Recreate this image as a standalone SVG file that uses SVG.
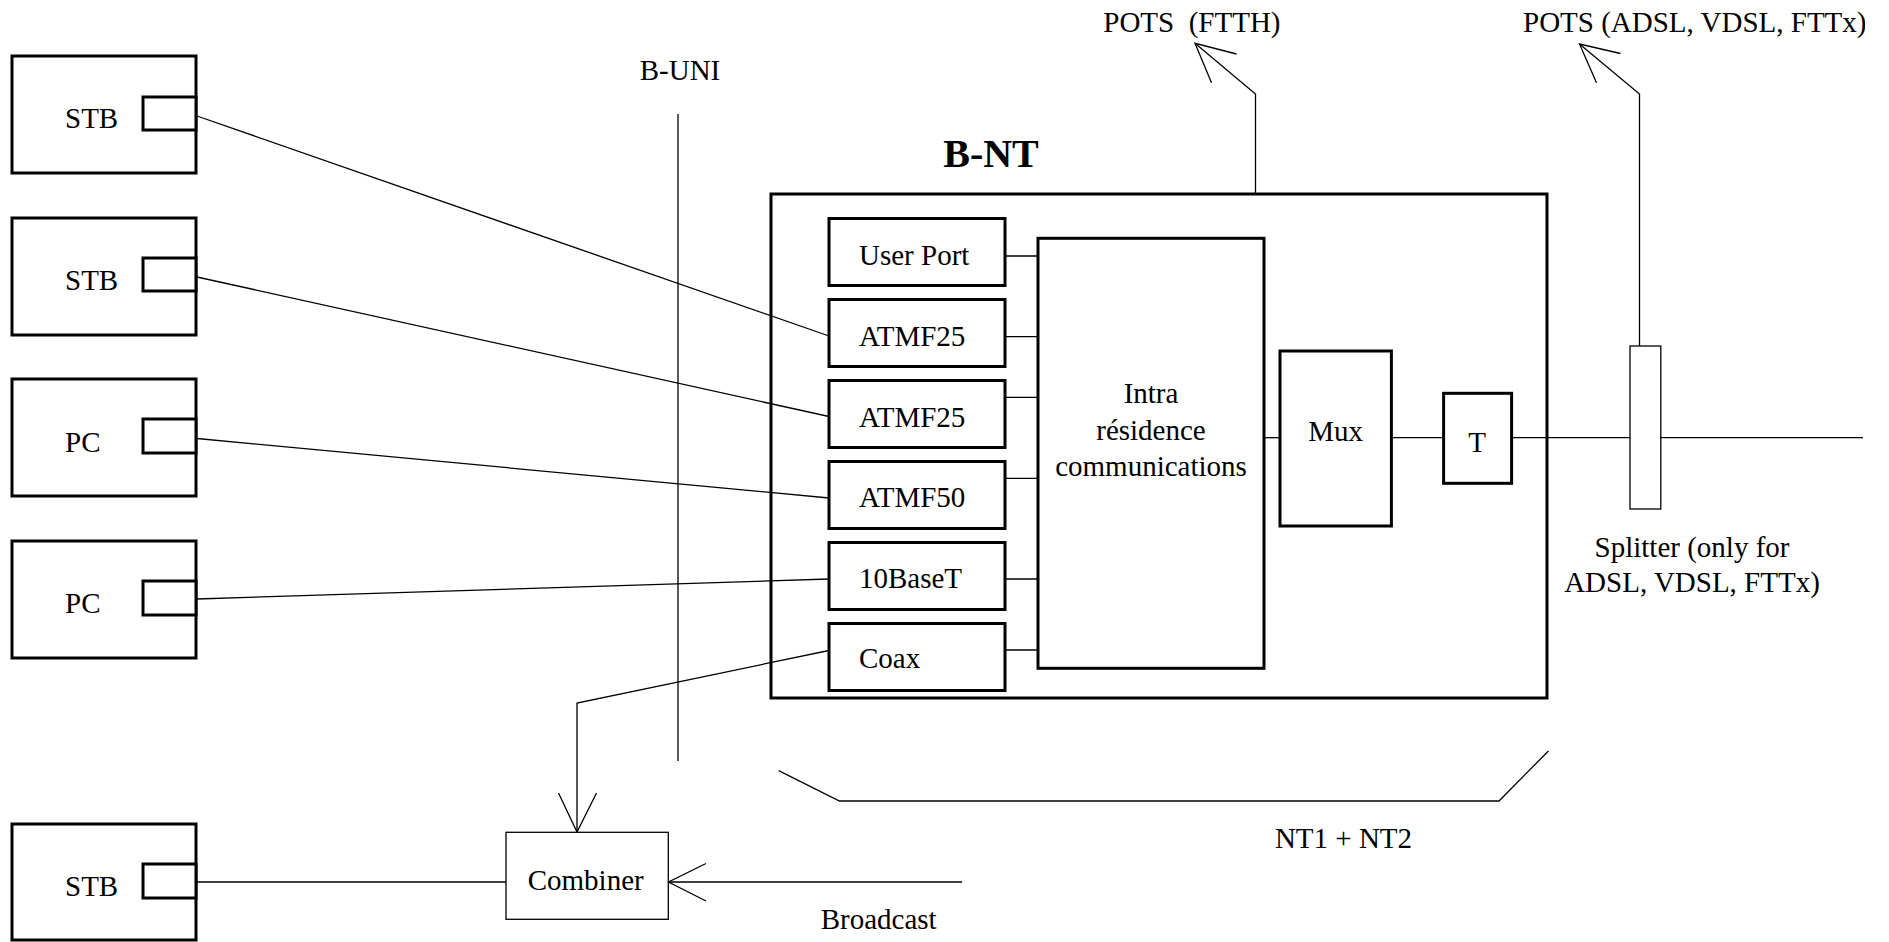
<svg xmlns="http://www.w3.org/2000/svg" width="1889" height="942" viewBox="0 0 1889 942">
<style>
text{font-family:"Liberation Serif","Times New Roman",serif;font-size:29px;fill:#000}
.c{text-anchor:middle}
.b{font-weight:bold;font-size:40px}
.thick{fill:#fff;stroke:#000;stroke-width:3}
.thin{fill:#fff;stroke:#000;stroke-width:1.3}
.ln{fill:none;stroke:#000;stroke-width:1.3}
</style>
<defs>
<clipPath id="clipR"><rect x="0" y="0" width="1865" height="942"/></clipPath>
</defs>
<rect width="1889" height="942" fill="#fff"/>

<g id="connectors">
<line class="ln" x1="197" y1="116" x2="829" y2="336"/>
<line class="ln" x1="197" y1="277" x2="829" y2="416.5"/>
<line class="ln" x1="197" y1="438.5" x2="829" y2="498"/>
<line class="ln" x1="197" y1="599" x2="829" y2="579"/>
<line class="ln" x1="197" y1="882" x2="506" y2="882"/>
<polyline class="ln" points="829,650.5 577,703 577,832"/>
<polyline class="ln" points="558.5,793 577,832 596.5,793"/>
<line class="ln" x1="962" y1="882" x2="668.5" y2="882"/>
<polyline class="ln" points="706,863.5 668.5,882 706,901"/>
<line class="ln" x1="1005" y1="256" x2="1038" y2="256"/>
<line class="ln" x1="1005" y1="336.7" x2="1038" y2="336.7"/>
<line class="ln" x1="1005" y1="397.3" x2="1038" y2="397.3"/>
<line class="ln" x1="1005" y1="478.3" x2="1038" y2="478.3"/>
<line class="ln" x1="1005" y1="579" x2="1038" y2="579"/>
<line class="ln" x1="1005" y1="650" x2="1038" y2="650"/>
<line class="ln" x1="1264" y1="437.7" x2="1280" y2="437.7"/>
<line class="ln" x1="1391" y1="437.7" x2="1444" y2="437.7"/>
<line class="ln" x1="1512" y1="437.7" x2="1863" y2="437.7"/>
<polyline class="ln" points="1255.5,194 1255.5,94 1195,43.3"/>
<polyline class="ln" points="1236.5,54 1195,43.3 1211.5,82.7"/>
<polyline class="ln" points="1639.5,346 1639.5,94 1579.5,44"/>
<polyline class="ln" points="1620.5,53.5 1579.5,44 1596.5,82.7"/>
</g>

<g id="b-uni">
<line class="ln" x1="678" y1="114" x2="678" y2="761"/>
<text class="c" x="680" y="80">B-UNI</text>
</g>

<g id="stb1">
<rect class="thick" x="12" y="56" width="184" height="117"/>
<rect class="thick" x="143" y="97" width="53" height="33"/>
<text x="65" y="128">STB</text>
</g>
<g id="stb2">
<rect class="thick" x="12" y="218" width="184" height="117"/>
<rect class="thick" x="143" y="258" width="53" height="33"/>
<text x="65" y="289.5">STB</text>
</g>
<g id="pc1">
<rect class="thick" x="12" y="379" width="184" height="117"/>
<rect class="thick" x="143" y="419" width="53" height="34"/>
<text x="65" y="451.5">PC</text>
</g>
<g id="pc2">
<rect class="thick" x="12" y="541" width="184" height="117"/>
<rect class="thick" x="143" y="581" width="53" height="34"/>
<text x="65" y="612.5">PC</text>
</g>
<g id="stb3">
<rect class="thick" x="12" y="824" width="184" height="116"/>
<rect class="thick" x="143" y="864" width="53" height="34"/>
<text x="65" y="896">STB</text>
</g>

<g id="combiner">
<rect class="thin" x="506" y="832.3" width="162.3" height="87"/>
<text class="c" x="585.7" y="890">Combiner</text>
</g>
<g id="broadcast">
<text class="c" x="878.7" y="929">Broadcast</text>
</g>

<g id="b-nt">
<text class="c b" x="991" y="167">B-NT</text>
<rect class="thick" x="771" y="194" width="776" height="504" fill="none" style="fill:none"/>
</g>

<g id="user-port">
<rect class="thick" x="829" y="218.5" width="176" height="67"/>
<text x="859" y="265">User Port</text>
</g>
<g id="atmf25-a">
<rect class="thick" x="829" y="299.5" width="176" height="67"/>
<text x="859" y="345.7">ATMF25</text>
</g>
<g id="atmf25-b">
<rect class="thick" x="829" y="380.5" width="176" height="67"/>
<text x="859" y="426.7">ATMF25</text>
</g>
<g id="atmf50">
<rect class="thick" x="829" y="461.5" width="176" height="67"/>
<text x="859" y="506.7">ATMF50</text>
</g>
<g id="10baset">
<rect class="thick" x="829" y="542.5" width="176" height="67"/>
<text x="859" y="588.3">10BaseT</text>
</g>
<g id="coax">
<rect class="thick" x="829" y="623.5" width="176" height="67"/>
<text x="859" y="668.3">Coax</text>
</g>

<g id="intra">
<rect class="thick" x="1038" y="238.3" width="226" height="430"/>
<text class="c" x="1151" y="402.7">Intra</text>
<text class="c" x="1151" y="440">résidence</text>
<text class="c" x="1151" y="476">communications</text>
</g>
<g id="mux">
<rect class="thick" x="1280" y="351" width="111.4" height="175"/>
<text class="c" x="1335.6" y="441">Mux</text>
</g>
<g id="t">
<rect class="thick" x="1443.6" y="393.3" width="68" height="90"/>
<text class="c" x="1477" y="451.7">T</text>
</g>

<g id="splitter">
<rect class="thin" x="1630" y="346" width="30.8" height="163"/>
<text class="c" x="1692" y="556.7">Splitter (only for</text>
<text class="c" x="1692" y="591.7">ADSL, VDSL, FTTx)</text>
</g>

<g id="pots-ftth">
<text x="1103.3" y="31.7" xml:space="preserve" style="white-space:pre">POTS  (FTTH)</text>
</g>
<g id="pots-adsl">
<text x="1523" y="31.7" clip-path="url(#clipR)">POTS (ADSL, VDSL, FTTx)</text>
</g>

<g id="nt1-nt2">
<polyline class="ln" points="778.7,770.7 839.5,801 1499,801 1548.4,751"/>
<text class="c" x="1343.5" y="848.3">NT1 + NT2</text>
</g>
</svg>
